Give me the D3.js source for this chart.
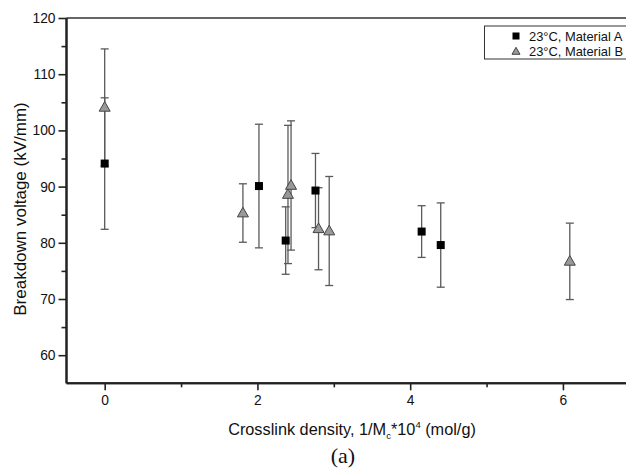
<!DOCTYPE html>
<html>
<head>
<meta charset="utf-8">
<script src="https://cdn.jsdelivr.net/npm/d3@7"></script>
<style>
  body { margin: 0; background: #fff; }
  svg { display: block; }
</style>
</head>
<body>
<svg id="chart" width="626" height="474"></svg>
<script>
// Data
const xA = [0, 2.02, 2.37, 2.76, 4.15, 4.40];
const yA = [94.1, 90.1, 80.4, 89.3, 82.0, 79.6];
const eA = [11.7, 11.0, 6.0, 6.6, 4.6, 7.5];
const xB = [0, 1.81, 2.40, 2.44, 2.80, 2.94, 6.09];
const yB = [104.1, 85.3, 88.6, 90.2, 82.5, 82.1, 76.7];
const eB = [10.4, 5.2, 12.3, 11.5, 7.3, 9.7, 6.8];
const seriesNames = ["23°C, Material A", "23°C, Material B"];
const xTicks = [0, 2, 4, 6];
const xMinor = [1, 3, 5];
const yTicks = [60, 70, 80, 90, 100, 110, 120];
const yMinor = [65, 75, 85, 95, 105, 115];

const svg = d3.select("#chart");
const x = d3.scaleLinear().domain([-0.5, 7]).range([66.5, 639.3]);
const y = d3.scaleLinear().domain([55, 120]).range([383.3, 18]);

const font = "Liberation Sans, Arial, Helvetica, sans-serif";
const axisColor = "#222";
const textColor = "#111";

// top frame
svg.append("line").attr("x1", x(-0.5)).attr("x2", x(7)).attr("y1", y(120)).attr("y2", y(120))
  .attr("stroke", "#333").attr("stroke-width", 1.5);

// y axis
const yAxisG = svg.append("g").attr("transform", `translate(${x(-0.5)},0)`);
yAxisG.call(d3.axisLeft(y).tickValues(yTicks).tickSize(8).tickPadding(3).tickFormat(d3.format("d")));
yAxisG.append("g").call(d3.axisLeft(y).tickValues(yMinor).tickSize(5).tickFormat(""));
yAxisG.selectAll(".domain").attr("stroke", axisColor).attr("stroke-width", 2);
yAxisG.selectAll(".tick line").attr("stroke", axisColor).attr("stroke-width", 1.6);
yAxisG.selectAll("text").attr("font-family", font).attr("font-size", 13.8).attr("fill", textColor);

// x axis
const xAxisG = svg.append("g").attr("transform", `translate(0,${y(55)})`);
xAxisG.call(d3.axisBottom(x).tickValues(xTicks).tickSize(7).tickPadding(5).tickFormat(d3.format("d")));
xAxisG.append("g").call(d3.axisBottom(x).tickValues(xMinor).tickSize(4).tickFormat(""));
xAxisG.selectAll(".domain").attr("stroke", axisColor).attr("stroke-width", 2);
xAxisG.selectAll(".tick line").attr("stroke", axisColor).attr("stroke-width", 1.6);
xAxisG.selectAll("text").attr("font-family", font).attr("font-size", 13.8).attr("fill", textColor);
yAxisG.selectAll(".domain").attr("d", `M0,${y(120)}V${y(55)}`);
xAxisG.selectAll(".domain").attr("d", `M${x(-0.5)},0H${x(7)}`);

// error bars
const errColor = "#5a5a5a";
const capW = 4;
function errorBars(xs, ys, es) {
  const g = svg.append("g");
  xs.forEach((xv, i) => {
    const cx = x(xv), t = y(ys[i] + es[i]), b = y(ys[i] - es[i]);
    g.append("line").attr("x1", cx).attr("x2", cx).attr("y1", t).attr("y2", b)
      .attr("stroke", errColor).attr("stroke-width", 1.3);
    g.append("line").attr("x1", cx - capW).attr("x2", cx + capW).attr("y1", t).attr("y2", t)
      .attr("stroke", errColor).attr("stroke-width", 1.3);
    g.append("line").attr("x1", cx - capW).attr("x2", cx + capW).attr("y1", b).attr("y2", b)
      .attr("stroke", errColor).attr("stroke-width", 1.3);
  });
}
errorBars(xA, yA, eA);
errorBars(xB, yB, eB);

// markers A: squares
const sq = 8;
svg.append("g").selectAll("rect").data(xA).join("rect")
  .attr("x", (d) => x(d) - sq / 2).attr("y", (d, i) => y(yA[i]) - sq / 2)
  .attr("width", sq).attr("height", sq).attr("fill", "#000");

// markers B: triangles
function triPath(cx, cy, hw) {
  const h = hw * 1.75;
  return `M${cx},${cy - h * 0.6}L${cx + hw},${cy + h * 0.4}L${cx - hw},${cy + h * 0.4}Z`;
}
svg.append("g").selectAll("path").data(xB).join("path")
  .attr("d", (d, i) => triPath(x(d), y(yB[i]), 5.5))
  .attr("fill", "#999").attr("stroke", "#444").attr("stroke-width", 1);

// legend
const lg = svg.append("g");
lg.append("rect").attr("x", 484.5).attr("y", 26).attr("width", 160).attr("height", 33)
  .attr("fill", "#fff").attr("stroke", "#333").attr("stroke-width", 1);
lg.append("rect").attr("x", 516 - 3.5).attr("y", 36 - 3.5).attr("width", 7).attr("height", 7).attr("fill", "#000");
lg.append("path").attr("d", triPath(516, 51.5, 4)).attr("fill", "#999").attr("stroke", "#444").attr("stroke-width", 1);
lg.selectAll("text").data(seriesNames).join("text")
  .attr("x", 529).attr("y", (d, i) => 40.8 + i * 15)
  .attr("font-family", font).attr("font-size", 12.9).attr("fill", textColor)
  .text((d) => d);

// y title
svg.append("text").attr("transform", `translate(26,209) rotate(-90)`)
  .attr("text-anchor", "middle").attr("font-family", font).attr("font-size", 17).attr("fill", textColor)
  .text("Breakdown voltage (kV/mm)");

// x title
const xt = svg.append("text").attr("x", 352).attr("y", 435)
  .attr("text-anchor", "middle").attr("font-family", font).attr("font-size", 16.3).attr("fill", textColor);
xt.append("tspan").text("Crosslink density, 1/M");
xt.append("tspan").attr("font-size", 9.5).attr("dy", 4).text("c");
xt.append("tspan").attr("dy", -4).text("*10");
xt.append("tspan").attr("font-size", 9.5).attr("dy", -7).text("4");
xt.append("tspan").attr("dy", 7).text(" (mol/g)");

// panel label
svg.append("text").attr("x", 343).attr("y", 463).attr("text-anchor", "middle")
  .attr("font-family", "Liberation Serif, Times New Roman, serif").attr("font-size", 22).attr("fill", textColor)
  .text("(a)");
</script>
</body>
</html>
